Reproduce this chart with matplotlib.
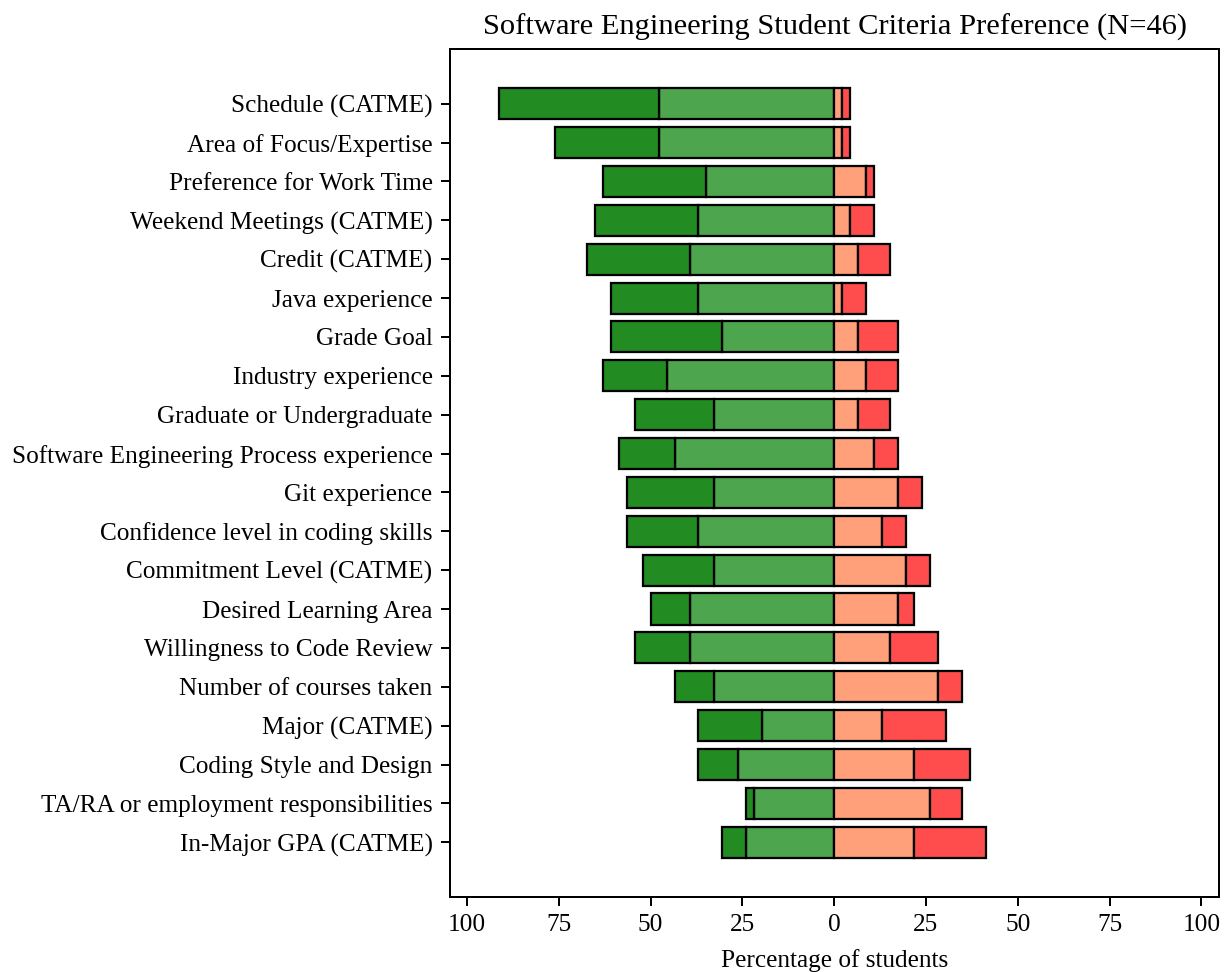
import matplotlib
matplotlib.use("Agg")
import matplotlib.pyplot as plt
import numpy as np
from matplotlib.ticker import FixedLocator, FuncFormatter

plt.rcParams['font.family'] = ['Liberation Serif', 'DejaVu Serif']
plt.rcParams['font.size'] = 10.1

N = 46
criteria = [
    "Schedule (CATME)",
    "Area of Focus/Expertise",
    "Preference for Work Time",
    "Weekend Meetings (CATME)",
    "Credit (CATME)",
    "Java experience",
    "Grade Goal",
    "Industry experience",
    "Graduate or Undergraduate",
    "Software Engineering Process experience",
    "Git experience",
    "Confidence level in coding skills",
    "Commitment Level (CATME)",
    "Desired Learning Area",
    "Willingness to Code Review",
    "Number of courses taken",
    "Major (CATME)",
    "Coding Style and Design",
    "TA/RA or employment responsibilities",
    "In-Major GPA (CATME)",
]

# number of students per response (out of N)
important      = [22, 22, 16, 17, 18, 17, 14, 21, 15, 20, 15, 17, 15, 18, 18, 15, 9, 12, 10, 11]
very_important = [20, 13, 13, 13, 13, 11, 14, 8, 10, 7, 11, 9, 9, 5, 7, 5, 8, 5, 1, 3]
unimportant    = [1, 1, 4, 2, 3, 1, 3, 4, 3, 5, 8, 6, 9, 8, 7, 13, 6, 10, 12, 10]
very_unimportant = [1, 1, 1, 3, 4, 3, 5, 4, 4, 3, 3, 3, 3, 2, 6, 3, 8, 7, 4, 9]

imp = np.array(important) / N * 100
vimp = np.array(very_important) / N * 100
unimp = np.array(unimportant) / N * 100
vunimp = np.array(very_unimportant) / N * 100

y = np.arange(len(criteria))
h = 0.8
kw = dict(height=h, edgecolor='black', linewidth=0.9)

fig = plt.figure(figsize=(1231 / 180, 972 / 180), dpi=180)
ax = fig.add_axes([0.3656, 0.0775, 0.6247, 0.8718])

# important on the left, unimportant on the right
ax.barh(y, -imp, color='#4DA64D', **kw)
ax.barh(y, -vimp, left=-imp, color='#228B22', **kw)
ax.barh(y, unimp, color='#FFA07A', **kw)
ax.barh(y, vunimp, left=unimp, color='#FF4D4D', **kw)

ax.set_yticks(y)
ax.set_yticklabels(criteria)
ax.set_ylim(len(criteria) - 1 + 1.4, -1.4)
ax.set_xlim(-104.6, 104.8)
ax.xaxis.set_major_locator(FixedLocator(np.arange(-100, 101, 25)))
ax.xaxis.set_major_formatter(FuncFormatter(lambda v, p: f"{abs(int(v))}"))
ax.set_xlabel("Percentage of students", labelpad=5)
ax.set_title("Software Engineering Student Criteria Preference (N=46)", fontsize=12.2)

fig.savefig("out.png", dpi=180)
